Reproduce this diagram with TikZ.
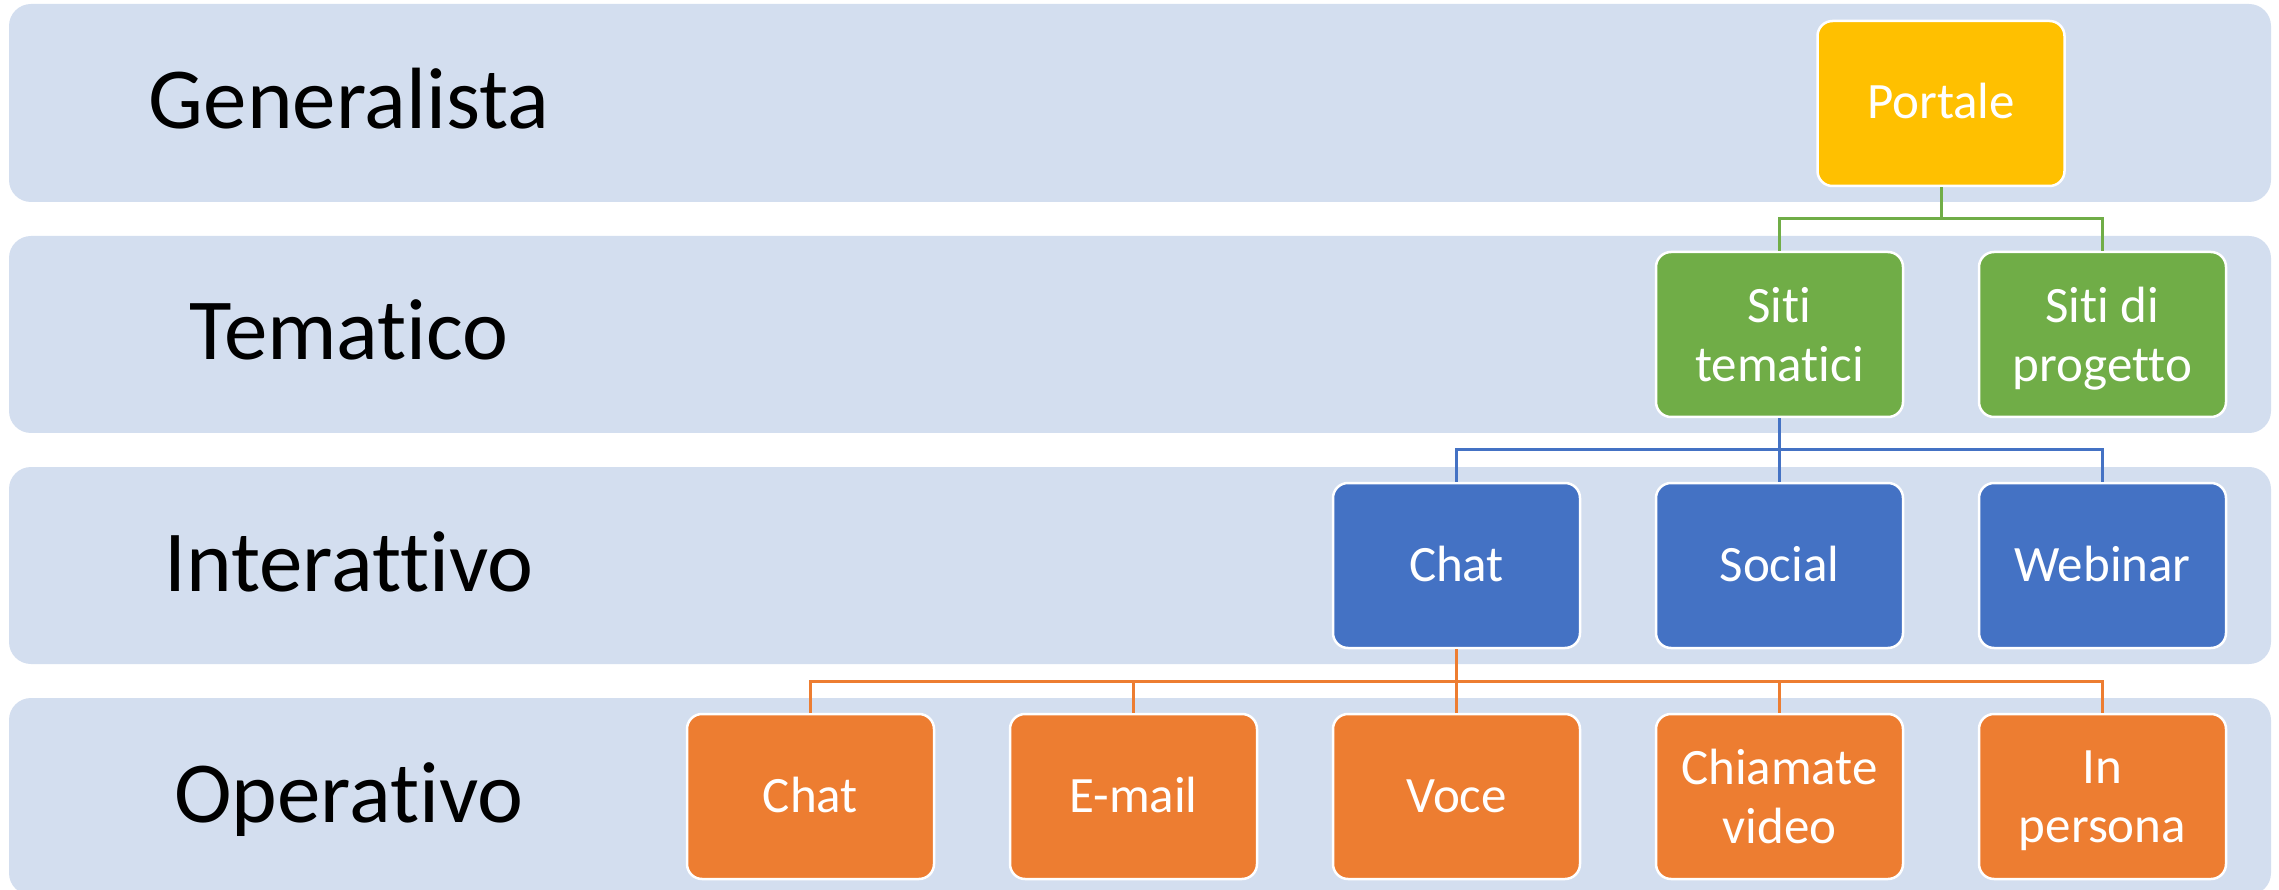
\documentclass[tikz,border=0pt]{standalone}
\usepackage{fontspec}
\setmainfont{Carlito}[Ligatures={NoCommon,NoContextual}]
\definecolor{bandc}{HTML}{D3DEEF}
\definecolor{goldc}{HTML}{FFC000}
\definecolor{greenc}{HTML}{70AD47}
\definecolor{bluec}{HTML}{4472C4}
\definecolor{orangec}{HTML}{ED7D31}
\begin{document}
\begin{tikzpicture}[x=1pt,y=-1pt,
  band/.style={fill=bandc,rounded corners=22pt},
  lvl/.style={anchor=base,text=black,font=\fontsize{87}{104}\selectfont,inner sep=0pt},
  box/.style={draw=white,line width=2.5pt,rounded corners=15pt,minimum width=247pt,minimum height=165pt,
     text=white,align=center,font=\fontsize{51}{59}\selectfont,inner sep=0pt},
  one/.style={text height=31pt,text depth=0pt},
  two/.style={text depth=0pt},
  conn/.style={line width=3pt,line join=miter}]
\useasboundingbox (0,0) rectangle (2279,890);
% bands
\fill[band] (9,4) rectangle (2271,202);
\fill[band] (9,236) rectangle (2271,433);
\fill[band] (9,467) rectangle (2271,664);
\fill[band] (9,698) rectangle (2271,895);
% level labels
\node[lvl] (l1) at (349,129) {Generalista};
\node[lvl] (l2) at (349,360) {Tematico};
\node[lvl] (l3) at (349,591) {Interattivo};
\node[lvl] (l4) at (349,822) {Operativo};
% boxes
\node[box,one,fill=goldc] (portale) at (1941,103.5) {Portale};
\node[box,two,fill=greenc] (st) at (1779.5,334.5) {Siti\\tematici};
\node[box,two,fill=greenc] (sp) at (2102.5,334.5) {Siti di\\progetto};
\node[box,one,fill=bluec] (chat) at (1456.5,565.5) {Chat};
\node[box,one,fill=bluec] (social) at (1779.5,565.5) {Social};
\node[box,one,fill=bluec] (webinar) at (2102.5,565.5) {Webinar};
\node[box,one,fill=orangec] (ochat) at (810.5,796.5) {Chat};
\node[box,one,fill=orangec] (email) at (1133.5,796.5) {E-mail};
\node[box,one,fill=orangec] (voce) at (1456.5,796.5) {Voce};
\node[box,two,fill=orangec] (video) at (1779.5,796.5) {Chiamate\\video};
\node[box,two,fill=orangec] (persona) at (2102.5,796.5) {In\\persona};
% junctions
\coordinate (jg) at (1941,219);
\coordinate (jb) at (1779.5,450);
\coordinate (jo) at (1456.5,681);
% connectors
\draw[conn,greenc] (portale.south) -- (jg) -| (st.north);
\draw[conn,greenc] (jg) -| (sp.north);
\draw[conn,bluec] (st.south) -- (social.north);
\draw[conn,bluec] (jb) -| (chat.north);
\draw[conn,bluec] (jb) -| (webinar.north);
\draw[conn,orangec] (chat.south) -- (voce.north);
\draw[conn,orangec] (jo) -| (ochat.north);
\draw[conn,orangec] (jo) -| (email.north);
\draw[conn,orangec] (jo) -| (video.north);
\draw[conn,orangec] (jo) -| (persona.north);
\end{tikzpicture}
\end{document}
